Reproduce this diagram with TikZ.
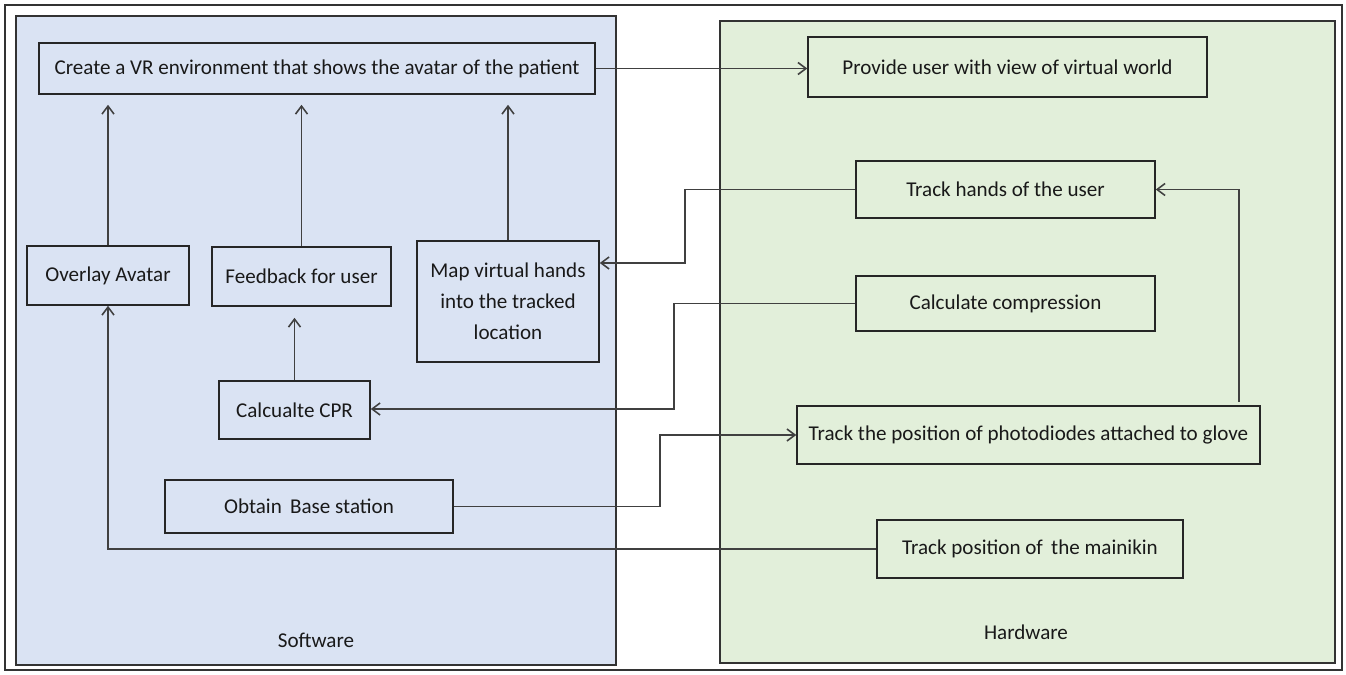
\documentclass[tikz,border=0pt]{standalone}
\usepackage{fontspec}
\setmainfont{Carlito}
\usepackage{xcolor}
\usetikzlibrary{positioning,arrows.meta}
\definecolor{swfill}{HTML}{DAE3F3}
\definecolor{hwfill}{HTML}{E2EFDA}

\begin{document}
\begin{tikzpicture}[x=0.02cm, y=-0.02cm,
  box/.style={draw=black!85, line width=0.9pt, align=center, inner sep=2pt, text=black!90,
              font=\fontsize{12pt}{17.6pt}\selectfont, minimum width=#1},
  box/.default=5cm,
  panel/.style={draw=black!80, line width=0.9pt, fill=#1},
  lbl/.style={font=\fontsize{12pt}{14pt}\selectfont, text=black!90},
  conn/.style={draw=black!75, line width=0.9pt},
  >={Straight Barb[length=1.6mm,width=2.4mm]}]
  \useasboundingbox (0,0) rectangle (1346,675);
  \draw[line width=0.9pt, black!80] (5,5) rectangle (1342,670);
  % the two panels
  \draw[panel=swfill] (16,16) rectangle (616,665);
  \draw[panel=hwfill] (720,21) rectangle (1335,663);
  \node[lbl] (swlbl) at (316,640) {Software};
  \node[lbl] (hwlbl) at (1026,632) {Hardware};
  % software side
  \node[box=11.12cm, minimum height=1.02cm] (create)   at (317,68.5)  {Create a VR environment that shows the avatar of the patient};
  \node[box=3.24cm,  minimum height=1.18cm] (overlay)  at (108,275.5) {Overlay Avatar};
  \node[box=3.58cm,  minimum height=1.18cm] (feedback) at (301.5,276.5) {Feedback for user};
  \node[box=3.64cm,  minimum height=2.42cm] (mapbox)   at (508,301.5) {Map virtual hands\\into the tracked\\location};
  \node[box=3.02cm,  minimum height=1.16cm] (cpr)      at (294.5,410) {Calcualte CPR};
  \node[box=5.76cm,  minimum height=1.06cm] (obtain)   at (309,506.5) {Obtain\, Base station};
  % hardware side
  \node[box=7.98cm,  minimum height=1.2cm]  (provide)  at (1007.5,67)  {Provide user with view of virtual world};
  \node[box=5.98cm,  minimum height=1.14cm] (hands)    at (1005.5,189.5) {Track hands of the user};
  \node[box=5.98cm,  minimum height=1.1cm]  (compress) at (1005.5,303.5) {Calculate compression};
  \node[box=9.26cm,  minimum height=1.16cm] (photo)    at (1028.5,435) {Track the position of photodiodes attached to glove};
  \node[box=6.12cm,  minimum height=1.16cm] (mani)     at (1030,549)   {Track position of\, the mainikin};
  % connectors
  \draw[conn,->] (create.east) -- (create.east -| provide.west);
  \draw[conn,->,shorten >=0.2cm] (overlay.north) -- (overlay.north |- create.south);
  \draw[conn,->,shorten >=0.2cm] (feedback.north) -- (feedback.north |- create.south);
  \draw[conn,->,shorten >=0.2cm] (mapbox.north) -- (mapbox.north |- create.south);
  \draw[conn,->,shorten >=0.22cm] (cpr.north) -- (cpr.north |- feedback.south);
  \coordinate (hbend) at (685,263);
  \draw[conn,->] (hands.west) -| (hbend) -- (hbend -| mapbox.east);
  \coordinate (cbend) at (674,409);
  \draw[conn,->] (compress.west) -| (cbend) -- (cbend -| cpr.east);
  \coordinate (obend) at (660,435);
  \draw[conn,->] (obtain.east) -| (obend) -- (obend -| photo.west);
  \draw[conn,->,shorten <=0.06cm] ([xshift=4.21cm]photo.north) |- (hands.east);
  \draw[conn,->] (mani.west) -| (overlay.south);
\end{tikzpicture}
\end{document}
